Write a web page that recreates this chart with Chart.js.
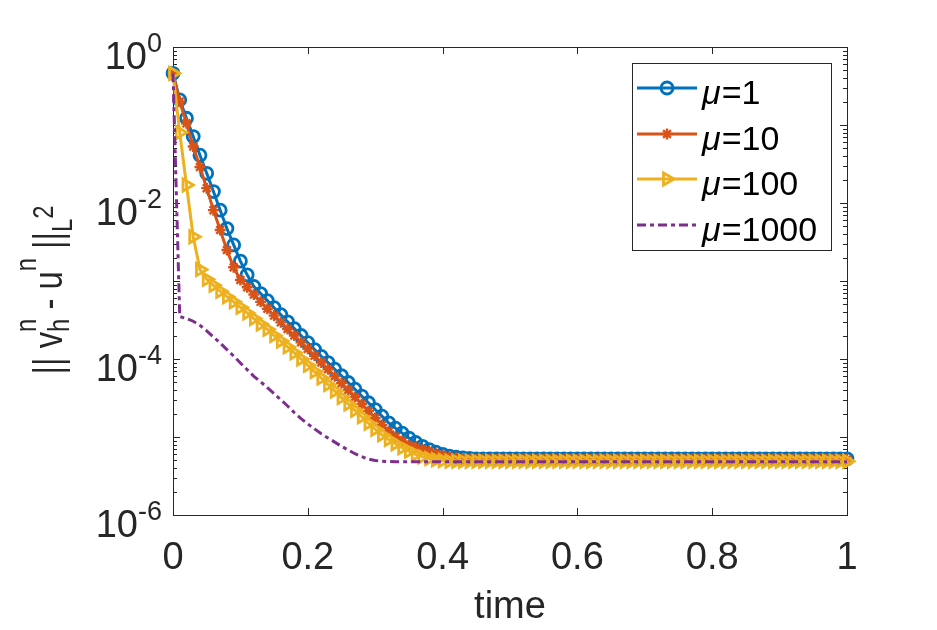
<!DOCTYPE html>
<html>
<head>
<meta charset="utf-8">
<script src="https://cdn.jsdelivr.net/npm/chart.js@4.4.1/dist/chart.umd.min.js"></script>
<style>
  html, body { margin: 0; padding: 0; background: #fff; }
  #wrap { width: 937px; height: 630px; }
</style>
</head>
<body>
<div id="wrap"><canvas id="chart" width="937" height="630"></canvas></div>
<script>
// time grid (step 0.01)
const times = [
  0.00, 0.01, 0.02, 0.03, 0.04, 0.05, 0.06, 0.07, 0.08, 0.09,
  0.10, 0.11, 0.12, 0.13, 0.14, 0.15, 0.16, 0.17, 0.18, 0.19,
  0.20, 0.21, 0.22, 0.23, 0.24, 0.25, 0.26, 0.27, 0.28, 0.29,
  0.30, 0.31, 0.32, 0.33, 0.34, 0.35, 0.36, 0.37, 0.38, 0.39,
  0.40, 0.41, 0.42, 0.43, 0.44, 0.45, 0.46, 0.47, 0.48, 0.49,
  0.50, 0.51, 0.52, 0.53, 0.54, 0.55, 0.56, 0.57, 0.58, 0.59,
  0.60, 0.61, 0.62, 0.63, 0.64, 0.65, 0.66, 0.67, 0.68, 0.69,
  0.70, 0.71, 0.72, 0.73, 0.74, 0.75, 0.76, 0.77, 0.78, 0.79,
  0.80, 0.81, 0.82, 0.83, 0.84, 0.85, 0.86, 0.87, 0.88, 0.89,
  0.90, 0.91, 0.92, 0.93, 0.94, 0.95, 0.96, 0.97, 0.98, 0.99,
  1.00
];

// ||v_h^n - u^n||, one value per time step
const mu1 = [
  0.46, 0.21, 0.122, 0.071, 0.041, 0.024, 0.014, 0.0081, 0.0047, 0.0029,
  0.0018, 0.0012, 8.5e-4, 6.9e-4, 5.6e-4, 4.55e-4, 3.7e-4, 3.0e-4, 2.45e-4, 2.0e-4,
  1.62e-4, 1.32e-4, 1.08e-4, 9.0e-5, 7.4e-5, 6.1e-5, 5.0e-5, 4.1e-5, 3.35e-5, 2.75e-5,
  2.25e-5, 1.85e-5, 1.52e-5, 1.3e-5, 1.12e-5, 9.7e-6, 8.5e-6, 7.6e-6, 6.9e-6, 6.4e-6,
  6.0e-6, 5.7e-6, 5.5e-6, 5.4e-6, 5.3e-6, 5.25e-6, 5.25e-6, 5.25e-6, 5.25e-6, 5.25e-6,
  5.25e-6, 5.25e-6, 5.25e-6, 5.25e-6, 5.25e-6, 5.25e-6, 5.25e-6, 5.25e-6, 5.25e-6, 5.25e-6,
  5.25e-6, 5.25e-6, 5.25e-6, 5.25e-6, 5.25e-6, 5.25e-6, 5.25e-6, 5.25e-6, 5.25e-6, 5.25e-6,
  5.25e-6, 5.25e-6, 5.25e-6, 5.25e-6, 5.25e-6, 5.25e-6, 5.25e-6, 5.25e-6, 5.25e-6, 5.25e-6,
  5.25e-6, 5.25e-6, 5.25e-6, 5.25e-6, 5.25e-6, 5.25e-6, 5.25e-6, 5.25e-6, 5.25e-6, 5.25e-6,
  5.25e-6, 5.25e-6, 5.25e-6, 5.25e-6, 5.25e-6, 5.25e-6, 5.25e-6, 5.25e-6, 5.25e-6, 5.25e-6,
  5.25e-6
];
const mu10 = [
  0.46, 0.2, 0.105, 0.053, 0.029, 0.0155, 0.0081, 0.0045, 0.0025, 0.0015,
  0.00103, 8.3e-4, 6.7e-4, 5.4e-4, 4.4e-4, 3.6e-4, 2.95e-4, 2.42e-4, 2.0e-4, 1.64e-4,
  1.35e-4, 1.1e-4, 9.0e-5, 7.4e-5, 6.0e-5, 4.9e-5, 4.0e-5, 3.25e-5, 2.65e-5, 2.15e-5,
  1.75e-5, 1.43e-5, 1.18e-5, 1.0e-5, 8.8e-6, 7.9e-6, 7.4e-6, 6.9e-6, 6.5e-6, 6.1e-6,
  5.8e-6, 5.55e-6, 5.4e-6, 5.25e-6, 5.15e-6, 5.15e-6, 5.15e-6, 5.15e-6, 5.15e-6, 5.15e-6,
  5.15e-6, 5.15e-6, 5.15e-6, 5.15e-6, 5.15e-6, 5.15e-6, 5.15e-6, 5.15e-6, 5.15e-6, 5.15e-6,
  5.15e-6, 5.15e-6, 5.15e-6, 5.15e-6, 5.15e-6, 5.15e-6, 5.15e-6, 5.15e-6, 5.15e-6, 5.15e-6,
  5.15e-6, 5.15e-6, 5.15e-6, 5.15e-6, 5.15e-6, 5.15e-6, 5.15e-6, 5.15e-6, 5.15e-6, 5.15e-6,
  5.15e-6, 5.15e-6, 5.15e-6, 5.15e-6, 5.15e-6, 5.15e-6, 5.15e-6, 5.15e-6, 5.15e-6, 5.15e-6,
  5.15e-6, 5.15e-6, 5.15e-6, 5.15e-6, 5.15e-6, 5.15e-6, 5.15e-6, 5.15e-6, 5.15e-6, 5.15e-6,
  5.15e-6
];
const mu100 = [
  0.46, 0.08, 0.017, 0.0037, 0.0014, 0.00105, 8.8e-4, 7.4e-4, 6.3e-4, 5.4e-4,
  4.6e-4, 3.9e-4, 3.3e-4, 2.8e-4, 2.4e-4, 2.0e-4, 1.7e-4, 1.43e-4, 1.2e-4, 1.0e-4,
  8.3e-5, 6.9e-5, 5.7e-5, 4.7e-5, 3.9e-5, 3.2e-5, 2.65e-5, 2.2e-5, 1.82e-5, 1.5e-5,
  1.26e-5, 1.07e-5, 9.3e-6, 8.2e-6, 7.3e-6, 6.6e-6, 6.0e-6, 5.6e-6, 5.3e-6, 5.1e-6,
  5.0e-6, 4.9e-6, 4.9e-6, 4.9e-6, 4.9e-6, 4.9e-6, 4.9e-6, 4.9e-6, 4.9e-6, 4.9e-6,
  4.9e-6, 4.9e-6, 4.9e-6, 4.9e-6, 4.9e-6, 4.9e-6, 4.9e-6, 4.9e-6, 4.9e-6, 4.9e-6,
  4.9e-6, 4.9e-6, 4.9e-6, 4.9e-6, 4.9e-6, 4.9e-6, 4.9e-6, 4.9e-6, 4.9e-6, 4.9e-6,
  4.9e-6, 4.9e-6, 4.9e-6, 4.9e-6, 4.9e-6, 4.9e-6, 4.9e-6, 4.9e-6, 4.9e-6, 4.9e-6,
  4.9e-6, 4.9e-6, 4.9e-6, 4.9e-6, 4.9e-6, 4.9e-6, 4.9e-6, 4.9e-6, 4.9e-6, 4.9e-6,
  4.9e-6, 4.9e-6, 4.9e-6, 4.9e-6, 4.9e-6, 4.9e-6, 4.9e-6, 4.9e-6, 4.9e-6, 4.9e-6,
  4.9e-6
];
const mu1000 = [
  0.46, 3.5e-4, 3.3e-4, 3.05e-4, 2.7e-4, 2.3e-4, 1.92e-4, 1.6e-4, 1.32e-4, 1.09e-4,
  8.9e-5, 7.3e-5, 6.0e-5, 5.1e-5, 4.3e-5, 3.6e-5, 3.0e-5, 2.5e-5, 2.05e-5, 1.72e-5,
  1.47e-5, 1.27e-5, 1.1e-5, 9.7e-6, 8.6e-6, 7.6e-6, 6.8e-6, 6.1e-6, 5.6e-6, 5.2e-6,
  5.0e-6, 4.9e-6, 4.85e-6, 4.8e-6, 4.8e-6, 4.8e-6, 4.8e-6, 4.8e-6, 4.8e-6, 4.8e-6,
  4.8e-6, 4.8e-6, 4.8e-6, 4.8e-6, 4.8e-6, 4.8e-6, 4.8e-6, 4.8e-6, 4.8e-6, 4.8e-6,
  4.8e-6, 4.8e-6, 4.8e-6, 4.8e-6, 4.8e-6, 4.8e-6, 4.8e-6, 4.8e-6, 4.8e-6, 4.8e-6,
  4.8e-6, 4.8e-6, 4.8e-6, 4.8e-6, 4.8e-6, 4.8e-6, 4.8e-6, 4.8e-6, 4.8e-6, 4.8e-6,
  4.8e-6, 4.8e-6, 4.8e-6, 4.8e-6, 4.8e-6, 4.8e-6, 4.8e-6, 4.8e-6, 4.8e-6, 4.8e-6,
  4.8e-6, 4.8e-6, 4.8e-6, 4.8e-6, 4.8e-6, 4.8e-6, 4.8e-6, 4.8e-6, 4.8e-6, 4.8e-6,
  4.8e-6, 4.8e-6, 4.8e-6, 4.8e-6, 4.8e-6, 4.8e-6, 4.8e-6, 4.8e-6, 4.8e-6, 4.8e-6,
  4.8e-6
];

const muLabels = ['1', '10', '100', '1000'];
const xTickValues = [0, 0.2, 0.4, 0.6, 0.8, 1];
const xTickLabels = ['0', '0.2', '0.4', '0.6', '0.8', '1'];
const yTickExponents = [0, -2, -4, -6];

const axisColor = '#262626';
const fontFamily = '"Liberation Sans", Arial, sans-serif';

function toPoints(values) {
    return times.map((t, i) => ({ x: t, y: values[i] }));
}

// axes box + inward ticks, MATLAB style (drawn under the data)
const axesBox = {
    id: 'axesBox',
    beforeDatasetsDraw(chart) {
        const { ctx, chartArea: a, scales: { x, y } } = chart;
        ctx.save();
        ctx.strokeStyle = axisColor;
        ctx.lineWidth = 1;
        ctx.beginPath();
        for (let e = -6; e <= 0; e++) {
            for (let m = 1; m <= 9; m++) {
                const v = m * Math.pow(10, e);
                if (v > 1.0000001) break;
                const py = Math.round(y.getPixelForValue(v)) + 0.5;
                const len = m === 1 ? 7 : 4;
                ctx.moveTo(a.left, py); ctx.lineTo(a.left + len, py);
                ctx.moveTo(a.right, py); ctx.lineTo(a.right - len, py);
            }
        }
        xTickValues.forEach(v => {
            const px = Math.round(x.getPixelForValue(v)) + 0.5;
            ctx.moveTo(px, a.bottom); ctx.lineTo(px, a.bottom - 7);
            ctx.moveTo(px, a.top); ctx.lineTo(px, a.top + 7);
        });
        ctx.stroke();
        ctx.strokeRect(Math.round(a.left) + 0.5, Math.round(a.top) + 0.5,
            Math.round(a.right - a.left), Math.round(a.bottom - a.top));
        ctx.restore();
    }
};

// tick labels, axis titles and legend
const axesText = {
    id: 'axesText',
    afterDraw(chart) {
        const { ctx, chartArea: a, scales: { x, y } } = chart;
        ctx.save();
        ctx.fillStyle = axisColor;

        // x tick labels
        ctx.font = '38px ' + fontFamily;
        ctx.textAlign = 'center';
        ctx.textBaseline = 'alphabetic';
        xTickValues.forEach((v, i) => {
            ctx.fillText(xTickLabels[i], x.getPixelForValue(v), a.bottom + 54);
        });

        // y tick labels 10^k
        yTickExponents.forEach(k => {
            const py = y.getPixelForValue(Math.pow(10, k));
            ctx.font = '38px ' + fontFamily;
            const wBase = ctx.measureText('10').width;
            ctx.font = '27px ' + fontFamily;
            const expText = String(k);
            const wExp = ctx.measureText(expText).width;
            const right = a.left - 11;
            ctx.textAlign = 'left';
            ctx.font = '38px ' + fontFamily;
            ctx.fillText('10', right - wBase - wExp, py + 22);
            ctx.font = '27px ' + fontFamily;
            ctx.fillText(expText, right - wExp, py + 5);
        });

        // x title
        ctx.font = '38px ' + fontFamily;
        ctx.textAlign = 'center';
        ctx.fillText('time', (a.left + a.right) / 2, 618);

        // y title: || v_h^n - u^n ||_{L^2}, a little condensed like the original
        const squeeze = 0.82;
        ctx.save();
        ctx.translate(62, 0);
        ctx.rotate(-Math.PI / 2);
        ctx.scale(squeeze, 1);
        const big = '40px ' + fontFamily;
        const small = '29px ' + fontFamily;
        const parts = [
            { t: '|| v', f: big, dy: 0, adv: true },
            { t: 'n', f: small, dy: -26, adv: false },
            { t: 'h', f: small, dy: 7, adv: true },
            { t: ' - u', f: big, dy: 0, adv: true },
            { t: 'n', f: small, dy: -26, adv: true },
            { t: ' ||', f: big, dy: 0, adv: true },
            { t: 'L', f: small, dy: 10, adv: true },
            { t: '2', f: small, dy: -9, adv: true }
        ];
        let total = 0;
        parts.forEach(p => {
            ctx.font = p.f;
            if (p.adv) total += ctx.measureText(p.t).width;
        });
        let cx = -290 / squeeze - total / 2;
        ctx.textAlign = 'left';
        parts.forEach(p => {
            ctx.font = p.f;
            ctx.fillText(p.t, cx, p.dy);
            if (p.adv) cx += ctx.measureText(p.t).width;
        });
        ctx.restore();

        // legend
        const box = { left: 632.5, top: 63.5, right: 831.5, bottom: 250.5 };
        ctx.fillStyle = '#fff';
        ctx.fillRect(box.left, box.top, box.right - box.left, box.bottom - box.top);
        ctx.strokeStyle = axisColor;
        ctx.lineWidth = 1;
        ctx.strokeRect(box.left, box.top, box.right - box.left, box.bottom - box.top);
        const rowY = [88, 134, 179, 225];
        chart.data.datasets.forEach((ds, i) => {
            const ly = rowY[i];
            ctx.save();
            ctx.strokeStyle = ds.borderColor;
            ctx.lineWidth = ds.borderWidth;
            ctx.setLineDash(ds.borderDash || []);
            ctx.beginPath();
            ctx.moveTo(637, ly);
            ctx.lineTo(697, ly);
            ctx.stroke();
            ctx.setLineDash([]);
            if (ds.pointRadius > 0) {
                ctx.fillStyle = 'rgba(0,0,0,0)';
                ctx.lineWidth = ds.pointBorderWidth;
                Chart.helpers.drawPoint(ctx, {
                    pointStyle: ds.pointStyle,
                    rotation: ds.pointRotation || 0,
                    radius: ds.pointRadius,
                    borderWidth: ds.pointBorderWidth
                }, 667, ly);
            }
            ctx.restore();
            ctx.fillStyle = '#000';
            ctx.textAlign = 'left';
            ctx.font = 'italic 34px ' + fontFamily;
            ctx.fillText('\u03bc', 702, ly + 16);
            const wMu = ctx.measureText('\u03bc').width;
            ctx.font = '34px ' + fontFamily;
            ctx.fillText('=' + muLabels[i], 702 + wMu + 1, ly + 16);
        });

        ctx.restore();
    }
};

const ctx = document.getElementById('chart').getContext('2d');
new Chart(ctx, {
    type: 'line',
    data: {
        datasets: [
            {
                label: '\u03bc=' + muLabels[0],
                data: toPoints(mu1),
                borderColor: '#0072BD',
                borderWidth: 3,
                pointStyle: 'circle',
                pointRadius: 6,
                pointBorderWidth: 2.8,
                pointBorderColor: '#0072BD',
                pointBackgroundColor: 'rgba(0,0,0,0)',
                order: 4
            },
            {
                label: '\u03bc=' + muLabels[1],
                data: toPoints(mu10),
                borderColor: '#D95319',
                borderWidth: 3,
                pointStyle: 'star',
                pointRadius: 5.5,
                pointBorderWidth: 2.4,
                pointBorderColor: '#D95319',
                pointBackgroundColor: 'rgba(0,0,0,0)',
                order: 3
            },
            {
                label: '\u03bc=' + muLabels[2],
                data: toPoints(mu100),
                borderColor: '#EDB120',
                borderWidth: 3,
                pointStyle: 'triangle',
                pointRotation: 90,
                pointRadius: 7,
                pointBorderWidth: 2.8,
                pointBorderColor: '#EDB120',
                pointBackgroundColor: 'rgba(0,0,0,0)',
                order: 2
            },
            {
                label: '\u03bc=' + muLabels[3],
                data: toPoints(mu1000),
                borderColor: '#7E2F8E',
                borderWidth: 3,
                borderDash: [9, 4, 4, 4],
                pointRadius: 0,
                order: 1
            }
        ]
    },
    options: {
        responsive: false,
        animation: false,
        clip: false,
        layout: { padding: { left: 173, right: 90, top: 47, bottom: 115 } },
        scales: {
            x: {
                type: 'linear', min: 0, max: 1,
                ticks: { display: false },
                grid: { display: false },
                border: { display: false },
                afterFit: s => { s.height = 0; }
            },
            y: {
                type: 'logarithmic', min: 1e-6, max: 1,
                ticks: { display: false },
                grid: { display: false },
                border: { display: false },
                afterFit: s => { s.width = 0; }
            }
        },
        plugins: {
            legend: { display: false },
            tooltip: { enabled: false }
        },
        elements: { line: { tension: 0 } }
    },
    plugins: [axesBox, axesText]
});
</script>
</body>
</html>
